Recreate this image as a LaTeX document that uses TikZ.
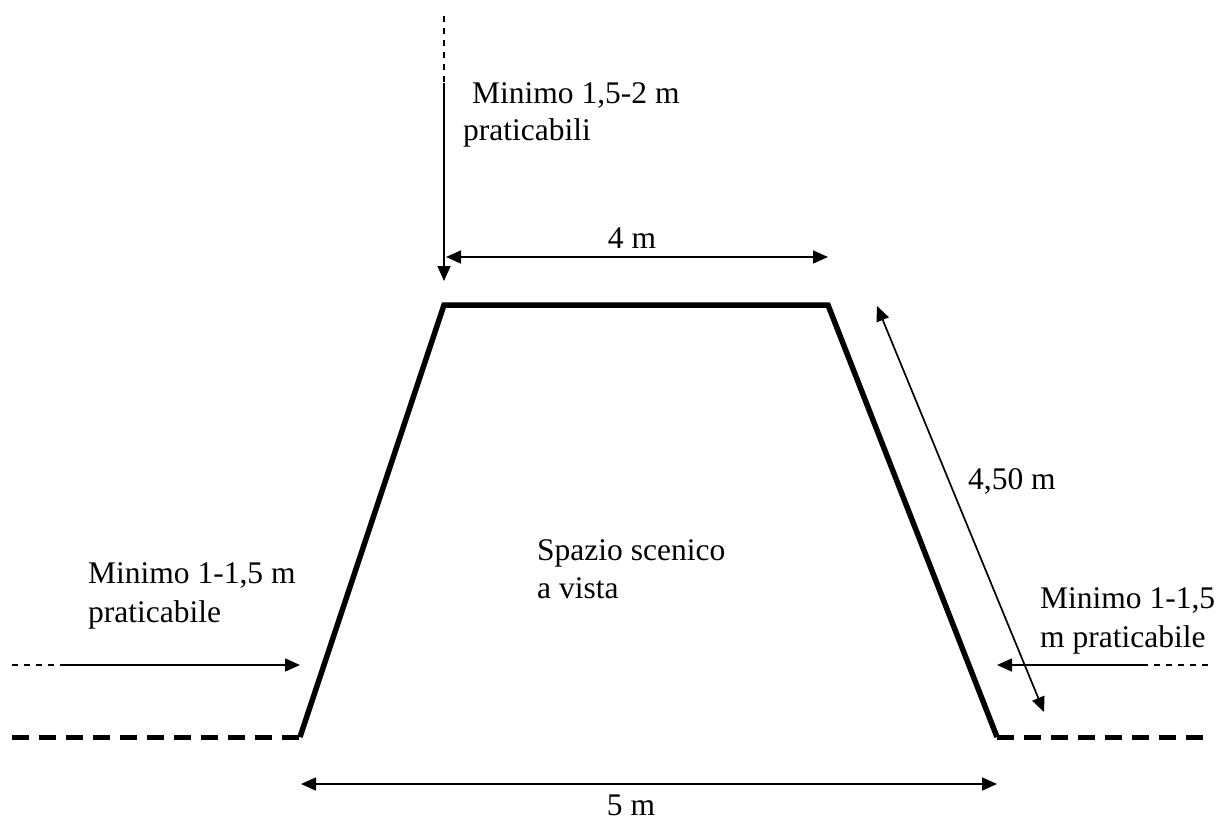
\documentclass[tikz,border=0pt]{standalone}
\usepackage{fontspec}
\setmainfont{Liberation Serif}
\usetikzlibrary{arrows.meta}
\begin{document}
\begin{tikzpicture}[x=1pt,y=-1pt,
  lbl/.style={inner sep=0pt, anchor=base west, font=\fontsize{31.5}{37}\selectfont},
  clbl/.style={inner sep=0pt, anchor=base, font=\fontsize{31.5}{37}\selectfont},
  wall/.style={line width=5.5pt, line join=miter},
  ground/.style={line width=5pt, dash pattern=on 17pt off 10pt},
  dimarrow/.style={line width=1.7pt, {Triangle[length=15pt,width=13pt]}-{Triangle[length=15pt,width=13pt]}},
  onearrow/.style={line width=1.7pt, -{Triangle[length=15pt,width=13pt]}},
  thindash/.style={line width=1.6pt, dash pattern=on 6pt off 6pt}]
\useasboundingbox (0,0) rectangle (1220,825);

% stage outline
\coordinate (BL) at (300,737);
\coordinate (TL) at (444,305);
\coordinate (TR) at (828,305);
\coordinate (BR) at (997,737);
\draw[wall] (BL) -- (TL) -- (TR) -- (BR);

% ground
\coordinate (GL) at (12,737);
\coordinate (GR) at (1208,737);
\draw[ground] (GL) -- (BL);
\draw[ground] (BR) -- (GR);

% dimensions
\coordinate (D4a) at (446,257);
\coordinate (D4b) at (828,257);
\draw[dimarrow] (D4a) -- (D4b);
\coordinate (D5a) at (301,784);
\coordinate (D5b) at (997,784);
\draw[dimarrow] (D5a) -- (D5b);
\coordinate (D45a) at (877,306);
\coordinate (D45b) at (1044,712);
\draw[dimarrow] (D45a) -- (D45b);

% access arrows
\coordinate (Vtop) at (444,16);
\coordinate (Vmid) at (444,83);
\coordinate (Vtip) at (444,281);
\draw[thindash] (Vtop) -- (Vmid);
\draw[onearrow] (Vmid) -- (Vtip);

\coordinate (Ltail) at (12,665);
\coordinate (Lmid) at (60,665);
\coordinate (Ltip) at (300,665);
\draw[thindash] (Ltail) -- (Lmid);
\draw[onearrow] (Lmid) -- (Ltip);

\coordinate (Rtail) at (1212,665);
\coordinate (Rmid) at (1142,665);
\coordinate (Rtip) at (997,665);
\draw[thindash] (Rmid) -- (Rtail);
\draw[onearrow] (Rmid) -- (Rtip);

% labels
\node[lbl] (top1) at (472,103) {Minimo 1,5-2 m};
\node[lbl] (top2) at (463,140) {praticabili};
\node[lbl] (left1) at (88,583) {Minimo 1-1,5 m};
\node[lbl] (left2) at (88,622) {praticabile};
\node[lbl] (right1) at (1040,608) {Minimo 1-1,5};
\node[lbl] (right2) at (1040,647) {m praticabile};
\node[lbl] (sp1) at (537,560) {Spazio scenico};
\node[lbl] (sp2) at (537,598) {a vista};
\node[lbl] (l450) at (968,489) {4,50 m};
\node[clbl] (l4) at (632,248) {4 m};
\node[clbl] (l5) at (631,815) {5 m};
\end{tikzpicture}
\end{document}
